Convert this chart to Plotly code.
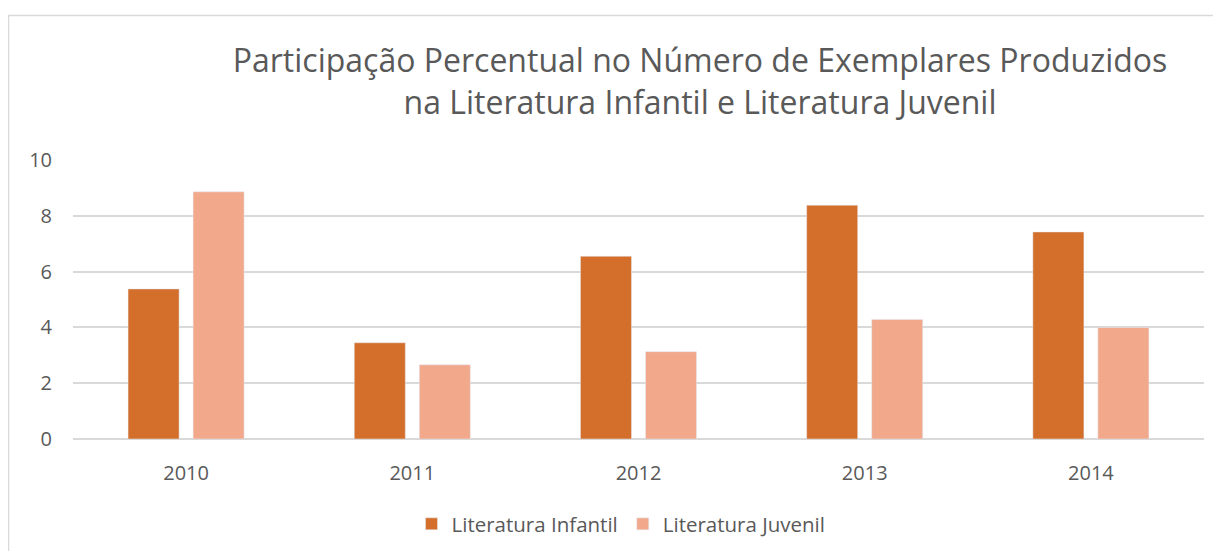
import plotly.graph_objects as go

anos = ["2010", "2011", "2012", "2013", "2014"]
infantil = [5.38, 3.45, 6.55, 8.38, 7.42]
juvenil = [8.86, 2.66, 3.13, 4.28, 4.0]
y_ticks = [0, 2, 4, 6, 8, 10]

FONT = "Open Sans"
GREY = "#595959"
W, H = 1213, 543
OFF = 8  # page offset of the figure

# target screen geometry of the plot area
PL, PR, PT, PB = 73, 1204, 160, 439

fig = go.Figure()
fig.add_trace(go.Bar(x=anos, y=infantil, name="Literatura Infantil",
                     marker=dict(color="#D36E2B")))
fig.add_trace(go.Bar(x=anos, y=juvenil, name="Literatura Juvenil",
                     marker=dict(color="#F1A88B")))

pw = PR - PL
ph = PB - PT

fig.update_layout(
    width=W, height=H,
    margin=dict(l=PL - OFF, r=W - (PR - OFF), t=PT - OFF, b=H - (PB - OFF),
                autoexpand=False),
    paper_bgcolor="white", plot_bgcolor="white",
    barmode="group", bargap=0.425, bargroupgap=0.215,
    font=dict(family=FONT, color=GREY, size=20),
    title=dict(
        text="Participação Percentual no Número de Exemplares Produzidos<br>na Literatura Infantil e Literatura Juvenil",
        x=(700 - OFF) / W, xref="container", xanchor="center",
        y=(H - 64) / H, yref="container", yanchor="top",
        font=dict(family=FONT, size=32, color=GREY),
    ),
    xaxis=dict(showgrid=False, showline=False, ticks="", ticklabelstandoff=20,
               tickfont=dict(size=20, color=GREY)),
    yaxis=dict(range=[0, 10], tickvals=y_ticks, showgrid=True, gridcolor="#D9D9D9",
               gridwidth=1.5, zeroline=True, zerolinecolor="#D9D9D9", zerolinewidth=1.5,
               showline=False, ticks="", ticklabelstandoff=20,
               tickfont=dict(size=20, color=GREY)),
    legend=dict(orientation="h", x=(621 - PL) / pw, xanchor="center",
                y=(PB - 524) / ph, yanchor="middle",
                font=dict(size=20.5, color=GREY), itemwidth=30),
    showlegend=True,
)

fig.add_shape(type="rect", xref="paper", yref="paper",
              x0=(8.5 - PL) / pw, x1=(1240 - PL) / pw,
              y0=(PB - 570) / ph, y1=(PB - 15.5) / ph,
              line=dict(color="#D9D9D9", width=1.5), fillcolor="rgba(0,0,0,0)", layer="below")

fig.write_html("out.html")
